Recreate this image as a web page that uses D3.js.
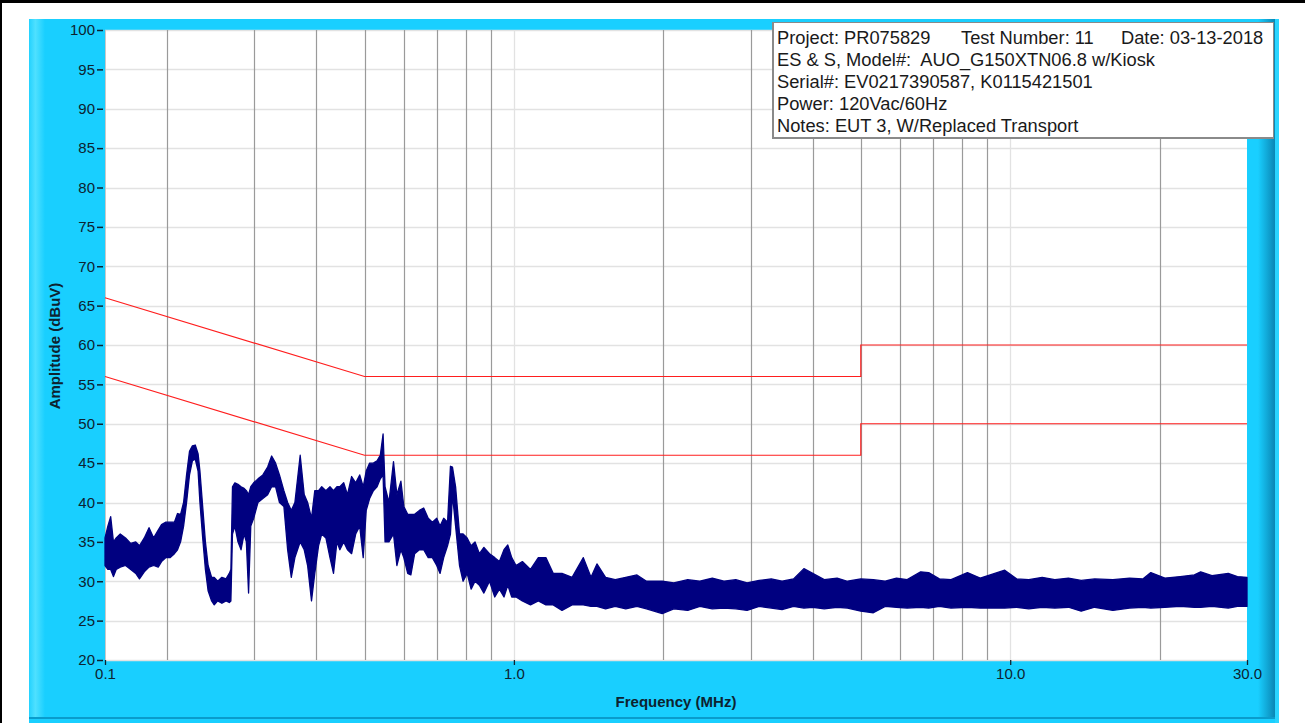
<!DOCTYPE html>
<html>
<head>
<meta charset="utf-8">
<script src="https://cdnjs.cloudflare.com/ajax/libs/d3/7.8.5/d3.min.js"></script>
<style>
  body { margin: 0; background: #fff; }
  svg { display: block; font-family: "Liberation Sans", Arial, sans-serif; }
</style>
</head>
<body>
<svg id="chart"></svg>
<script>
// limit lines (CISPR class B, quasi-peak and average)
var limitFreq = [0.15, 0.5, 5, 5, 30];
var qpLimit = [66, 56, 56, 60, 60];
var avgLimit = [56, 46, 46, 50, 50];

var traceFreq = [
  0.150, 0.152, 0.154, 0.156, 0.158, 0.161, 0.165, 0.169, 0.173, 0.176,
  0.180, 0.184, 0.188, 0.192, 0.195, 0.199, 0.203, 0.207, 0.210, 0.213,
  0.216, 0.219, 0.222, 0.225, 0.228, 0.231, 0.233, 0.236, 0.239, 0.242,
  0.246, 0.249, 0.253, 0.258, 0.263, 0.267, 0.269, 0.271, 0.274, 0.278,
  0.282, 0.286, 0.289, 0.292, 0.295, 0.299, 0.305, 0.312, 0.319, 0.325,
  0.331, 0.337, 0.344, 0.350, 0.356, 0.362, 0.371, 0.378, 0.384, 0.391,
  0.397, 0.404, 0.410, 0.418, 0.426, 0.433, 0.440, 0.446, 0.454, 0.462,
  0.471, 0.480, 0.489, 0.497, 0.504, 0.512, 0.521, 0.530, 0.538, 0.545,
  0.550, 0.560, 0.572, 0.581, 0.592, 0.600, 0.611, 0.620, 0.631, 0.645,
  0.658, 0.672, 0.685, 0.699, 0.710, 0.722, 0.735, 0.745, 0.752, 0.763,
  0.777, 0.790, 0.805, 0.820, 0.835, 0.852, 0.870, 0.893, 0.915, 0.935,
  0.955, 0.972, 0.990, 1.01, 1.04, 1.08, 1.12, 1.16, 1.20, 1.25,
  1.31, 1.38, 1.43, 1.47, 1.53, 1.60, 1.68, 1.77, 1.85, 1.99,
  2.10, 2.24, 2.37, 2.51, 2.65, 2.80, 2.95, 3.12, 3.30, 3.47,
  3.66, 3.84, 4.00, 4.22, 4.48, 4.70, 5.00, 5.30, 5.60, 5.90,
  6.20, 6.60, 6.85, 7.20, 7.60, 8.20, 8.70, 9.75, 10.3, 10.9,
  11.6, 12.3, 13.1, 13.9, 14.8, 16.1, 17.4, 18.5, 19.2, 20.5,
  22.0, 23.5, 24.2, 25.5, 27.5, 28.7, 30.0
];
var traceLow = [
  32.0, 31.5, 31.5, 30.6, 31.5, 31.8, 32.0, 31.5, 31.0, 30.3,
  31.2, 31.8, 32.0, 31.8, 32.5, 33.0, 33.0, 33.5, 34.0, 35.0,
  37.0, 40.0, 43.5, 45.3, 45.5, 44.0, 40.0, 35.5, 31.5, 28.8,
  27.5, 27.0, 27.5, 27.2, 27.5, 27.3, 27.5, 36.0, 37.0, 35.0,
  34.0, 36.0, 35.0, 28.5, 37.0, 38.0, 40.0, 40.5, 41.0, 42.0,
  42.0, 40.0, 39.5, 34.0, 30.5, 33.0, 35.0, 34.0, 32.0, 27.5,
  31.0, 34.5, 36.0, 35.5, 33.0, 31.0, 35.0, 34.0, 35.0, 34.0,
  33.5, 36.0, 37.0, 33.0, 39.0, 40.5, 41.5, 42.0, 43.0, 43.5,
  35.0, 35.0, 36.0, 32.0, 34.0, 33.0, 31.0, 30.8, 33.5, 34.0,
  34.0, 33.0, 33.0, 32.0, 31.0, 33.0, 34.5, 36.0, 41.0, 37.0,
  32.0, 30.0, 31.0, 29.0, 30.0, 29.5, 28.5, 30.0, 28.0, 29.0,
  28.0, 29.5, 28.0, 28.0, 27.5, 27.0, 27.5, 27.0, 27.0, 26.3,
  27.0, 27.0, 26.8, 26.8, 26.5, 26.8, 26.5, 26.8, 26.5, 25.9,
  26.5, 26.3, 26.8, 26.5, 26.6, 26.5, 26.3, 26.8, 26.6, 26.4,
  26.8, 26.6, 26.7, 26.5, 26.7, 26.6, 26.2, 26.0, 26.8, 26.7,
  26.6, 26.7, 26.6, 26.8, 26.6, 26.7, 26.6, 26.6, 26.7, 26.5,
  26.7, 26.6, 26.7, 26.2, 26.7, 26.3, 26.6, 26.7, 26.6, 26.7,
  26.8, 26.7, 26.7, 26.8, 26.6, 26.8, 26.8
];
var traceHigh = [
  35.5, 37.0, 38.2, 35.0, 35.5, 36.0, 35.5, 34.8, 35.0, 34.5,
  35.5, 36.8, 35.5, 36.5, 37.2, 37.5, 37.5, 37.5, 38.6, 38.5,
  40.0, 43.5, 46.5, 47.2, 47.3, 46.2, 44.0, 39.5, 35.0, 32.0,
  30.5, 30.5, 30.0, 30.5, 30.3, 31.0, 31.5, 42.0, 42.5, 42.3,
  42.0, 41.8, 41.5, 41.0, 42.0, 42.5, 43.0, 43.5, 44.5, 45.9,
  45.0, 43.5, 41.5, 40.0, 39.0, 40.0, 46.0, 41.0, 40.0, 38.0,
  41.5, 41.5, 42.0, 41.5, 42.0, 41.5, 42.0, 42.0, 42.5, 41.0,
  43.3, 42.5, 43.5, 42.0, 44.0, 45.0, 45.0, 45.3, 46.0, 48.7,
  42.0, 40.0, 45.2, 41.0, 42.7, 39.5, 38.5, 38.5, 38.5, 39.0,
  39.3, 38.0, 37.5, 38.0, 37.0, 38.0, 37.5, 44.6, 44.5, 42.0,
  36.0, 36.0, 35.5, 34.5, 35.0, 33.5, 34.3, 33.5, 33.0, 32.5,
  34.0, 34.6, 33.0, 32.0, 32.5, 31.5, 33.0, 33.0, 31.0, 31.0,
  30.5, 33.0, 30.5, 32.2, 30.5, 30.2, 30.5, 30.8, 30.0, 30.0,
  29.8, 30.2, 30.0, 30.4, 30.0, 30.2, 29.8, 30.1, 30.3, 30.0,
  30.3, 31.6, 31.0, 30.2, 30.4, 30.0, 30.3, 30.2, 30.0, 30.4,
  30.2, 31.2, 31.1, 30.3, 30.2, 31.1, 30.4, 31.4, 30.3, 30.2,
  30.5, 30.2, 30.4, 30.1, 30.3, 30.2, 30.4, 30.3, 31.1, 30.4,
  30.6, 30.8, 31.2, 30.7, 31.0, 30.6, 30.5
];

// axis ticks
var yTicks = d3.range(20, 101, 5);
var xTickValues = [0.15, 1, 10, 30];
var xTickLabels = ['0.1', '1.0', '10.0', '30.0'];
var minorFreqs = [0.2, 0.3, 0.4, 0.5, 0.6, 0.7, 0.8, 0.9, 2, 3, 4, 5, 6, 7, 8, 9, 20];
var majorFreqs = [1, 10];

var legendLines = [
  [{ x: 777, t: 'Project: PR075829' }, { x: 961, t: 'Test Number: 11' }, { x: 1121, t: 'Date: 03-13-2018' }],
  [{ x: 777, t: 'ES & S, Model#:  AUO_G150XTN06.8 w/Kiosk' }],
  [{ x: 777, t: 'Serial#: EV0217390587, K0115421501' }],
  [{ x: 777, t: 'Power: 120Vac/60Hz' }],
  [{ x: 777, t: 'Notes: EUT 3, W/Replaced Transport' }]
];

var width = 1305, height = 723;
var plot = { left: 105, right: 1247, top: 30, bottom: 660 };
var textColor = '#0d2330';

var svg = d3.select('#chart').attr('width', width).attr('height', height);

var defs = svg.append('defs');
var gl = defs.append('linearGradient').attr('id', 'leftEdge');
gl.append('stop').attr('offset', '0%').attr('stop-color', '#22d2ff');
gl.append('stop').attr('offset', '40%').attr('stop-color', '#4fe0ff');
gl.append('stop').attr('offset', '100%').attr('stop-color', '#19cfff');
var gr = defs.append('linearGradient').attr('id', 'rightEdge');
gr.append('stop').attr('offset', '0%').attr('stop-color', '#19cfff');
gr.append('stop').attr('offset', '100%').attr('stop-color', '#0a86b4');

// page frame
svg.append('rect').attr('x', 0).attr('y', 0).attr('width', width).attr('height', 3).attr('fill', '#000');
svg.append('rect').attr('x', 0).attr('y', 0).attr('width', 2).attr('height', height).attr('fill', '#000');

// cyan panel
svg.append('rect').attr('x', 29).attr('y', 19).attr('width', 1250).attr('height', 704).attr('fill', '#19cfff');
svg.append('rect').attr('x', 29).attr('y', 19).attr('width', 16).attr('height', 700).attr('fill', 'url(#leftEdge)');
svg.append('rect').attr('x', 1258).attr('y', 19).attr('width', 17).attr('height', 700).attr('fill', 'url(#rightEdge)');
svg.append('rect').attr('x', 1275).attr('y', 19).attr('width', 4).attr('height', 704).attr('fill', '#2ad5ff');
svg.append('rect').attr('x', 29).attr('y', 717).attr('width', 1246).attr('height', 2).attr('fill', '#0a9ccc');

// scales
var x = d3.scaleLog().domain([0.15, 30]).range([plot.left, plot.right]);
var y = d3.scaleLinear().domain([20, 100]).range([plot.bottom, plot.top]);

// plot background
svg.append('rect')
  .attr('x', plot.left).attr('y', plot.top)
  .attr('width', plot.right - plot.left).attr('height', plot.bottom - plot.top)
  .attr('fill', '#fff');

// grid
var grid = svg.append('g').attr('class', 'grid');
grid.selectAll('.hgrid').data(yTicks).enter().append('line')
  .attr('x1', plot.left).attr('x2', plot.right)
  .attr('y1', function (d) { return Math.round(y(d)) + 0.5; })
  .attr('y2', function (d) { return Math.round(y(d)) + 0.5; })
  .attr('stroke', '#e2e2e2').attr('stroke-width', 1.3);
grid.selectAll('.major').data(majorFreqs).enter().append('line')
  .attr('x1', function (d) { return Math.round(x(d)) + 0.5; })
  .attr('x2', function (d) { return Math.round(x(d)) + 0.5; })
  .attr('y1', plot.top).attr('y2', plot.bottom)
  .attr('stroke', '#e2e2e2').attr('stroke-width', 1.3);
grid.selectAll('.minor').data(minorFreqs).enter().append('line')
  .attr('x1', function (d) { return Math.round(x(d)) + 0.5; })
  .attr('x2', function (d) { return Math.round(x(d)) + 0.5; })
  .attr('y1', plot.top).attr('y2', plot.bottom)
  .attr('stroke', '#9a9a9a').attr('stroke-width', 1.2);
grid.append('line')
  .attr('x1', plot.left + 0.5).attr('x2', plot.left + 0.5)
  .attr('y1', plot.top).attr('y2', plot.bottom)
  .attr('stroke', '#c8c8c8');

// limit lines
var limitLine = d3.line()
  .x(function (d) { return x(d[0]); })
  .y(function (d) { return y(d[1]); });
[qpLimit, avgLimit].forEach(function (lim) {
  svg.append('path')
    .datum(limitFreq.map(function (f, i) { return [f, lim[i]]; }))
    .attr('d', limitLine)
    .attr('fill', 'none')
    .attr('stroke', '#ff1e1e')
    .attr('stroke-width', 1.2);
});

// measured trace as a filled envelope
var rows = traceFreq.map(function (f, i) { return { f: f, lo: traceLow[i], hi: traceHigh[i] }; });
var band = d3.area()
  .x(function (d) { return x(d.f); })
  .y0(function (d) { return y(d.lo); })
  .y1(function (d) { return y(d.hi); });
svg.append('path')
  .datum(rows)
  .attr('d', band)
  .attr('fill', '#000080')
  .attr('stroke', '#000080')
  .attr('stroke-width', 1.3)
  .attr('stroke-linejoin', 'round');

// y axis
var yAxis = svg.append('g')
  .attr('transform', 'translate(' + (plot.left - 2) + ',0)')
  .call(d3.axisLeft(y).tickValues(yTicks).tickSize(6).tickPadding(2));
yAxis.select('.domain').remove();
yAxis.selectAll('line').attr('stroke', textColor).attr('stroke-width', 1.5);
yAxis.selectAll('text').attr('fill', textColor).style('font-size', '15px')
  .style('font-family', '"Liberation Sans", Arial, sans-serif');

// x axis
var xAxis = svg.append('g')
  .attr('transform', 'translate(0,' + plot.bottom + ')')
  .call(d3.axisBottom(x).tickValues(xTickValues)
    .tickFormat(function (d, i) { return xTickLabels[i]; })
    .tickSize(5).tickPadding(3));
xAxis.select('.domain').remove();
xAxis.selectAll('line').attr('stroke', textColor).attr('stroke-width', 1.3);
xAxis.selectAll('text').attr('fill', textColor).style('font-size', '15px')
  .style('font-family', '"Liberation Sans", Arial, sans-serif');

// axis titles
svg.append('text')
  .attr('x', 676).attr('y', 707)
  .attr('text-anchor', 'middle')
  .attr('fill', textColor)
  .style('font-size', '15px').style('font-weight', 'bold')
  .text('Frequency (MHz)');
svg.append('text')
  .attr('transform', 'translate(60,346) rotate(-90)')
  .attr('text-anchor', 'middle')
  .attr('fill', textColor)
  .style('font-size', '15px').style('font-weight', 'bold')
  .text('Amplitude (dBuV)');

// info box
svg.append('rect')
  .attr('x', 772).attr('y', 22).attr('width', 502).attr('height', 117)
  .attr('fill', '#8a8a8a');
svg.append('rect')
  .attr('x', 774).attr('y', 23).attr('width', 499).attr('height', 114)
  .attr('fill', '#fff');
var info = svg.append('g').attr('class', 'info');
legendLines.forEach(function (line, i) {
  line.forEach(function (part) {
    info.append('text')
      .attr('x', part.x).attr('y', 43.5 + i * 22.2)
      .attr('fill', '#1a1a1a')
      .style('font-size', '18.3px')
      .style('white-space', 'pre')
      .text(part.t);
  });
});
</script>
</body>
</html>
